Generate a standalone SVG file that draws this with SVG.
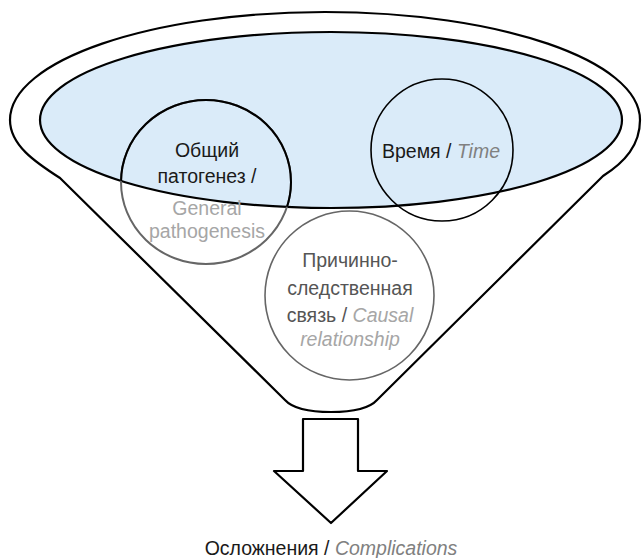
<svg xmlns="http://www.w3.org/2000/svg" width="643" height="558" viewBox="0 0 643 558">
<style>
.ln{fill:none;stroke:#000;stroke-width:2.2;stroke-linejoin:round}
.t{font-family:"Liberation Sans",Arial,sans-serif;font-size:19.5px;text-anchor:middle;fill:#1a1a1a}
.g{fill:#a6a6a6}
.m{fill:#808080;font-style:italic}
.d{fill:#555}
</style>
<defs>
<clipPath id="inner"><ellipse cx="331" cy="120" rx="291" ry="88"/></clipPath>
</defs>
<g id="funnel">
<path class="ln" style="fill:#fff" d="M60 178 C35 162 10 145 10 120 C10 60.4 151 12 325 12 C499 12 640 60.4 640 120 C640 145 625 162 603 176 L377 400 C368 410 350 412 331 412 C312 412 294 410 285 400 Z"/>
<ellipse cx="331" cy="120" rx="291" ry="88" fill="#daebf9" stroke="#000" stroke-width="2.2"/>
</g>
<g id="node-pathogenesis">
<ellipse cx="206" cy="182" rx="85" ry="82" fill="none" stroke="#666" stroke-width="2"/>
<ellipse cx="206" cy="182" rx="85" ry="82" fill="none" stroke="#000" stroke-width="2" clip-path="url(#inner)"/>
<text class="t" x="207" y="157">Общий</text>
<text class="t" x="207" y="183">патогенез /</text>
<text class="t g" x="207" y="215">General</text>
<text class="t g" x="207" y="238">pathogenesis</text>
</g>
<g id="node-time">
<circle cx="442" cy="150" r="71" fill="none" stroke="#000" stroke-width="1.6"/>
<text class="t" x="441" y="158">Время / <tspan class="m">Time</tspan></text>
</g>
<g id="node-causal">
<circle cx="349.5" cy="295.5" r="84.5" fill="none" stroke="#666" stroke-width="1.6"/>
<text class="t d" x="350" y="267">Причинно-</text>
<text class="t d" x="350" y="295">следственная</text>
<text class="t d" x="350" y="322">связь / <tspan class="g" font-style="italic">Causal</tspan></text>
<text class="t g" x="350" y="346" font-style="italic">relationship</text>
</g>
<g id="connectors">
<path class="ln" d="M303 419 L358 419 L358 471 L387 471 L331 523 L274 471 L303 471 Z"/>
</g>
<g id="node-complications">
<text class="t" x="331" y="555">Осложнения / <tspan class="m">Complications</tspan></text>
</g>
</svg>
